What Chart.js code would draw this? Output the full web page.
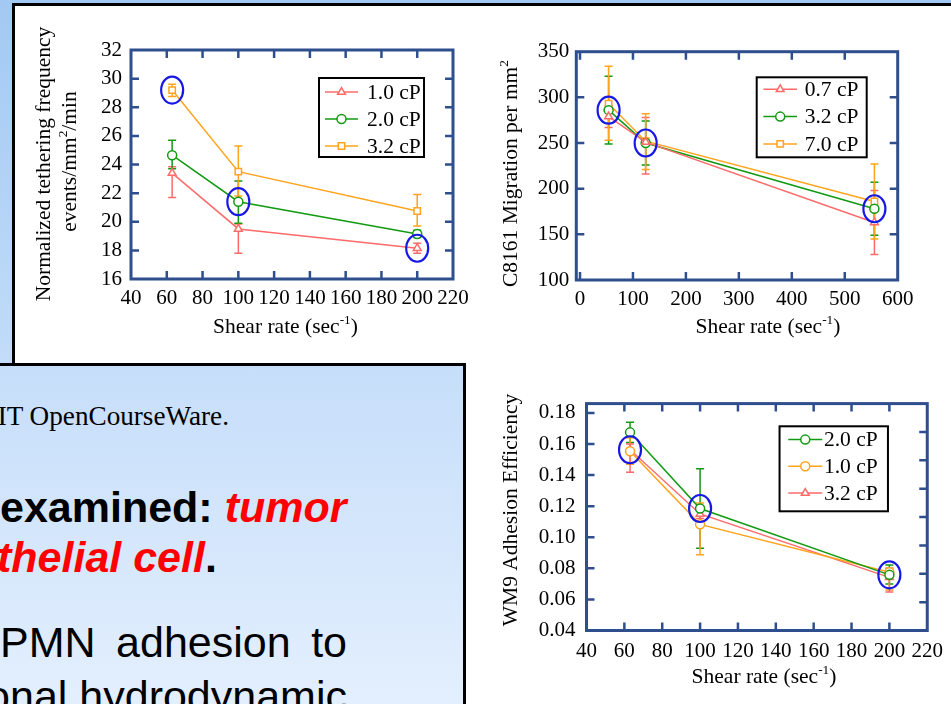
<!DOCTYPE html>
<html>
<head>
<meta charset="utf-8">
<script src="https://cdn.jsdelivr.net/npm/chart.js@4.4.0/dist/chart.umd.min.js"></script>
<style>
html, body { margin: 0; padding: 0; }
body {
  width: 951px; height: 704px; overflow: hidden; position: relative;
  background: linear-gradient(#a2c9f3, #c4ddf9 55%, #e3effd);
}
#panel { position: absolute; left: 12px; top: 3px; width: 1000px; height: 800px;
  background: #fff; border: 3px solid #000; box-sizing: border-box; }
#note { position: absolute; left: -10px; top: 363px; width: 476px; height: 400px;
  background: linear-gradient(#c6defa, #e8f2fe); border: 3px solid #000; box-sizing: border-box; }
canvas { position: absolute; }
.t { position: absolute; white-space: nowrap; line-height: 1; }
.serif { font-family: 'Liberation Serif', 'Times New Roman', serif; font-size: 27.2px; }
.sans { font-family: 'Liberation Sans', Arial, sans-serif; font-size: 43px; }
.red { color: #ff0000; font-style: italic; }
</style>
</head>
<body>
<div id="panel"></div>
<div id="note"></div>

<div class="t serif" style="right:722px; top:403px;">MIT OpenCourseWare.</div>
<div class="t sans" style="left:0; top:486px; font-weight:bold;">examined: <span class="red">tumor</span></div>
<div class="t sans" style="left:-3px; top:536px; font-weight:bold;"><span class="red">thelial cell</span>.</div>
<div class="t sans" style="left:0; top:621px; width:347px; text-align:justify; text-align-last:justify;">PMN adhesion to</div>
<div class="t sans" style="right:604px; top:675px;">onal hydrodynamic</div>

<canvas id="teth" width="460" height="330" style="left:20px; top:15px;"></canvas>
<canvas id="mig" width="460" height="330" style="left:480px; top:15px;"></canvas>
<canvas id="adh" width="471" height="320" style="left:480px; top:380px;"></canvas>

<script>
// ---- tethering frequency (top left) ----
const shear1 = [63, 100, 200];
const teth10 = [23.4, 19.5, 18.15];
const teth10Lo = [21.7, 17.8, 17.8];
const teth10Hi = [23.85, 19.85, 18.5];
const teth20 = [24.65, 21.4, 19.15];
const teth20Lo = [23.7, 19.9, 18.9];
const teth20Hi = [25.7, 22.85, 19.4];
const teth32 = [29.2, 23.5, 20.75];
const teth32Lo = [28.75, 21.8, 19.7];
const teth32Hi = [29.6, 25.3, 21.9];
const tethXTicks = [40, 60, 80, 100, 120, 140, 160, 180, 200, 220];
const tethYTicks = [16, 18, 20, 22, 24, 26, 28, 30, 32];

// ---- C8161 migration (top right) ----
const shear2 = [54, 124, 556];
const mig07 = [279, 251, 163];
const mig07Lo = [267, 216, 128];
const mig07Hi = [291, 278, 198];
const mig32 = [286, 250, 178];
const mig32Lo = [249, 226, 149];
const mig32Hi = [323, 274, 207];
const mig70 = [293, 252, 186];
const mig70Lo = [253, 221, 145];
const mig70Hi = [334, 282, 227];
const migXTicks = [0, 100, 200, 300, 400, 500, 600];
const migYTicks = [100, 150, 200, 250, 300, 350];

// ---- WM9 adhesion efficiency (bottom right) ----
const shear3 = [63, 100, 200];
const adh20 = [0.1675, 0.1185, 0.0758];
const adh20Lo = [0.161, 0.093, 0.070];
const adh20Hi = [0.174, 0.144, 0.0822];
const adh10 = [0.1553, 0.1083, 0.0775];
const adh10Lo = [0.147, 0.0887, 0.066];
const adh10Hi = [0.164, 0.122, 0.080];
const adh32 = [0.1563, 0.115, 0.0742];
const adh32Lo = [0.1418, 0.112, 0.0647];
const adh32Hi = [0.160, 0.120, 0.080];
const adhXTicks = [40, 60, 80, 100, 120, 140, 160, 180, 200, 220];
const adhYTicks = [0.04, 0.06, 0.08, 0.10, 0.12, 0.14, 0.16, 0.18];
const adhRightTicks = [0.04, 0.06, 0.08, 0.10, 0.12, 0.14, 0.16, 0.18, 0.20];

// circled points: [dataset index, point index]
const tethCircled = [[2, 0], [1, 1], [0, 2]];
const migCircled = [[1, 0], [1, 1], [1, 2]];
const adhCircled = [[2, 0], [0, 1], [0, 2]];

const FONT = "'Liberation Serif', 'Times New Roman', serif";
const AXIS = '#2e4e8e';
const RED = '#ff6b6b', GREEN = '#129a12', ORANGE = '#ffa41c';

Chart.defaults.font.family = FONT;
Chart.defaults.color = '#000';

function series(label, color, style, xs, ys, lo, hi) {
  return {
    label: label,
    data: xs.map((x, i) => ({ x: x, y: ys[i] })),
    lo: lo, hi: hi,
    borderColor: color, backgroundColor: '#fff', borderWidth: 1.5,
    pointStyle: style, pointRadius: 4.5, pointBorderWidth: 1.5,
    pointBackgroundColor: '#fff', pointBorderColor: color,
    tension: 0
  };
}

function marker(ctx, style, x, y, r, color) {
  if (Chart.helpers && Chart.helpers.drawPoint) {
    ctx.fillStyle = '#fff'; ctx.strokeStyle = color; ctx.lineWidth = 1.5;
    Chart.helpers.drawPoint(ctx, { pointStyle: style, radius: r, rotation: 0, borderWidth: 1.5 }, x, y);
    return;
  }
  ctx.beginPath();
  if (style === 'circle') ctx.arc(x, y, r, 0, Math.PI * 2);
  else if (style === 'rect') ctx.rect(x - r * 0.7, y - r * 0.7, r * 1.4, r * 1.4);
  else { ctx.moveTo(x, y - r); ctx.lineTo(x + r * 0.87, y + r / 2); ctx.lineTo(x - r * 0.87, y + r / 2); ctx.closePath(); }
  ctx.fillStyle = '#fff'; ctx.fill(); ctx.strokeStyle = color; ctx.lineWidth = 1.5; ctx.stroke();
}

// text with superscript parts, centred on x, alphabetic baseline at y
function richText(ctx, parts, x, y, size) {
  const sup = size * 0.62;
  let w = 0;
  parts.forEach(p => { ctx.font = (p[1] ? sup : size) + 'px ' + FONT; w += ctx.measureText(p[0]).width; });
  let cx = x - w / 2;
  ctx.textAlign = 'left'; ctx.textBaseline = 'alphabetic';
  parts.forEach(p => {
    ctx.font = (p[1] ? sup : size) + 'px ' + FONT;
    ctx.fillText(p[0], cx, p[1] ? y - size * 0.4 : y);
    cx += ctx.measureText(p[0]).width;
  });
}

const slidePlugin = {
  id: 'slide',
  beforeDatasetsDraw(chart) {
    // error bars
    const { ctx, scales: { x, y } } = chart;
    chart.data.datasets.forEach(ds => {
      ctx.save();
      ctx.strokeStyle = ds.borderColor; ctx.lineWidth = 1.5;
      ds.data.forEach((p, i) => {
        const px = x.getPixelForValue(p.x);
        const yl = y.getPixelForValue(ds.lo[i]), yh = y.getPixelForValue(ds.hi[i]);
        ctx.beginPath();
        ctx.moveTo(px, yl); ctx.lineTo(px, yh);
        ctx.moveTo(px - 4, yl); ctx.lineTo(px + 4, yl);
        ctx.moveTo(px - 4, yh); ctx.lineTo(px + 4, yh);
        ctx.stroke();
      });
      ctx.restore();
    });
  },
  afterDatasetsDraw(chart, args, o) {
    const { ctx, chartArea: a, scales } = chart;
    const x = scales.x, y = scales.y, yr = scales.y2 || scales.y;
    ctx.save();
    // frame + inward ticks on all sides
    ctx.strokeStyle = AXIS;
    ctx.lineWidth = 2.5;
    ctx.beginPath();
    x.ticks.forEach(t => {
      const px = x.getPixelForValue(t.value);
      if (px <= a.left + 1 || px >= a.right - 1) return;
      ctx.moveTo(px, a.bottom); ctx.lineTo(px, a.bottom - 8);
      ctx.moveTo(px, a.top); ctx.lineTo(px, a.top + 8);
    });
    y.ticks.forEach(t => {
      const py = y.getPixelForValue(t.value);
      if (py <= a.top + 1 || py >= a.bottom - 1) return;
      ctx.moveTo(a.left, py); ctx.lineTo(a.left + 8, py);
    });
    yr.ticks.forEach(t => {
      const py = yr.getPixelForValue(t.value);
      if (py <= a.top + 1 || py >= a.bottom - 1) return;
      ctx.moveTo(a.right, py); ctx.lineTo(a.right - 8, py);
    });
    ctx.stroke();
    ctx.lineWidth = 3;
    ctx.strokeRect(a.left, a.top, a.right - a.left, a.bottom - a.top);

    // blue ellipses
    ctx.strokeStyle = '#1818e6'; ctx.lineWidth = 2.2;
    o.circled.forEach(c => {
      const pt = chart.getDatasetMeta(c[0]).data[c[1]];
      ctx.beginPath();
      ctx.ellipse(pt.x, pt.y, 11, 13.5, 0, 0, Math.PI * 2);
      ctx.stroke();
    });

    // legend
    const L = o.legend;
    const bx = a.right - L.right - L.w, by = a.top + L.top;
    ctx.fillStyle = '#fff';
    ctx.fillRect(bx, by, L.w, L.h);
    ctx.strokeStyle = '#000'; ctx.lineWidth = 2;
    ctx.strokeRect(bx, by, L.w, L.h);
    chart.data.datasets.forEach((ds, i) => {
      const ry = by + L.row0 + i * L.dy;
      ctx.strokeStyle = ds.borderColor; ctx.lineWidth = 1.5;
      ctx.beginPath();
      ctx.moveTo(bx + L.lineX, ry); ctx.lineTo(bx + L.lineX + L.len, ry);
      ctx.stroke();
      marker(ctx, ds.pointStyle, bx + L.lineX + L.len / 2, ry, 4.5, ds.borderColor);
      ctx.fillStyle = '#000';
      ctx.font = '21.5px ' + FONT;
      ctx.textAlign = 'left'; ctx.textBaseline = 'middle';
      ctx.fillText(ds.label, bx + L.textX, ry + 1);
    });

    // axis titles
    ctx.fillStyle = '#000';
    richText(ctx, o.xTitle.parts, o.xTitle.x, o.xTitle.y, 21.5);
    o.yTitle.forEach(t => {
      ctx.save();
      ctx.translate(t.x, t.y);
      ctx.rotate(-Math.PI / 2);
      richText(ctx, t.parts, 0, 0, 21.5);
      ctx.restore();
    });
    ctx.restore();
  }
};

function fixedTicks(list) {
  return s => { s.ticks = list.map(v => ({ value: v })); };
}

function axis(min, max, ticks, extra) {
  return Object.assign({
    type: 'linear', min: min, max: max,
    afterBuildTicks: fixedTicks(ticks),
    grid: { display: false, drawTicks: false },
    border: { display: false },
    ticks: { autoSkip: false, maxRotation: 0, minRotation: 0, font: { size: 21 }, color: '#000' }
  }, extra);
}

const shearTitle = [['Shear rate (sec', false], ['-1', true], [')', false]];

function makeChart(id, datasets, spec) {
  const xs = axis(spec.x[0], spec.x[1], spec.xTicks, { position: 'bottom', afterFit: s => { s.height = spec.xH; } });
  xs.ticks.padding = spec.xPad;
  const ys = axis(spec.y[0], spec.y[1], spec.yTicks, { position: 'left', afterFit: s => { s.width = spec.yW; } });
  ys.ticks.padding = spec.yPad;
  if (spec.yFmt) ys.ticks.callback = spec.yFmt;
  const scales = { x: xs, y: ys };
  if (spec.rightTicks) {
    scales.y2 = axis(spec.right[0], spec.right[1], spec.rightTicks,
      { position: 'right', afterFit: s => { s.width = 0; } });
    scales.y2.ticks.display = false;
  }
  return new Chart(document.getElementById(id), {
    type: 'line',
    data: { datasets: datasets },
    options: {
      responsive: false, animation: false, devicePixelRatio: 1,
      layout: { padding: { top: spec.padTop, right: spec.padRight, left: 0, bottom: 0 } },
      scales: scales,
      plugins: {
        legend: { display: false }, tooltip: { enabled: false },
        slide: { circled: spec.circled, legend: spec.legend, xTitle: spec.xTitle, yTitle: spec.yTitle }
      }
    },
    plugins: [slidePlugin]
  });
}

makeChart('teth', [
  series('1.0 cP', RED, 'triangle', shear1, teth10, teth10Lo, teth10Hi),
  series('2.0 cP', GREEN, 'circle', shear1, teth20, teth20Lo, teth20Hi),
  series('3.2 cP', ORANGE, 'rect', shear1, teth32, teth32Lo, teth32Hi)
], {
  x: [40, 220], xTicks: tethXTicks, y: [16, 32], yTicks: tethYTicks,
  xH: 66, yW: 111, padTop: 35, padRight: 27, xPad: 7, yPad: 9,
  circled: tethCircled,
  legend: { right: 29, top: 28, w: 105, h: 79, lineX: 6, len: 33, textX: 48, row0: 14, dy: 27 },
  xTitle: { parts: shearTitle, x: 265.5, y: 318 },
  yTitle: [
    { parts: [['Normalized tethering frequency', false]], x: 30, y: 149 },
    { parts: [['events/mm', false], ['2', true], ['/min', false]], x: 56, y: 146.5 }
  ]
});

makeChart('mig', [
  series('0.7 cP', RED, 'triangle', shear2, mig07, mig07Lo, mig07Hi),
  series('3.2 cP', GREEN, 'circle', shear2, mig32, mig32Lo, mig32Hi),
  series('7.0 cP', ORANGE, 'rect', shear2, mig70, mig70Lo, mig70Hi)
], {
  x: [-7, 600], xTicks: migXTicks, y: [100, 350], yTicks: migYTicks,
  xH: 65, yW: 96.3, padTop: 36.7, padRight: 42.3, xPad: 7, yPad: 7,
  circled: migCircled,
  legend: { right: 31, top: 25.6, w: 110, h: 80, lineX: 6.7, len: 33.6, textX: 48, row0: 12, dy: 27.3 },
  xTitle: { parts: shearTitle, x: 288, y: 318 },
  yTitle: [
    { parts: [['C8161 Migration per mm', false], ['2', true]], x: 36.5, y: 158.5 }
  ]
});

makeChart('adh', [
  series('2.0 cP', GREEN, 'circle', shear3, adh20, adh20Lo, adh20Hi),
  series('1.0 cP', ORANGE, 'circle', shear3, adh10, adh10Lo, adh10Hi),
  series('3.2 cP', RED, 'triangle', shear3, adh32, adh32Lo, adh32Hi)
], {
  x: [40, 220], xTicks: adhXTicks, y: [0.04, 0.186], yTicks: adhYTicks,
  right: [0.04, 0.20], rightTicks: adhRightTicks,
  yFmt: v => v.toFixed(2),
  xH: 69.5, yW: 106.5, padTop: 20, padRight: 21, xPad: 8, yPad: 11,
  circled: adhCircled,
  legend: { right: 39.3, top: 22.7, w: 108.4, h: 85, lineX: 8.7, len: 34, textX: 44.4, row0: 13.3, dy: 26.7 },
  xTitle: { parts: shearTitle, x: 284, y: 303 },
  yTitle: [
    { parts: [['WM9 Adhesion Efficiency', false]], x: 37, y: 130 }
  ]
});
</script>
</body>
</html>
